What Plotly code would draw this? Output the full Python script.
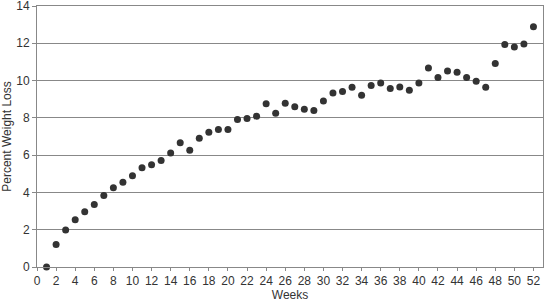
import plotly.graph_objects as go

weeks = list(range(1, 53))
pct_loss = [0.0, 1.21, 1.98, 2.53, 2.96, 3.35, 3.84, 4.25, 4.55, 4.89,
            5.32, 5.48, 5.71, 6.11, 6.67, 6.26, 6.91, 7.23, 7.37, 7.37,
            7.91, 7.96, 8.09, 8.76, 8.25, 8.78, 8.60, 8.46, 8.39, 8.91,
            9.34, 9.41, 9.64, 9.21, 9.73, 9.87, 9.57, 9.66, 9.48, 9.87,
            10.67, 10.16, 10.51, 10.44, 10.16, 9.96, 9.64, 10.91, 11.94, 11.80,
            11.96, 12.89]
x_ticks = list(range(0, 54, 2))
y_ticks = list(range(0, 15, 2))

fig = go.Figure()
fig.add_trace(go.Scatter(
    x=weeks, y=pct_loss, mode="markers",
    marker=dict(size=7, color="#333333"),
    showlegend=False, cliponaxis=False,
))

font = dict(family="Liberation Sans, Arial, sans-serif", size=12, color="#333333")
fig.update_layout(
    width=546, height=302,
    margin=dict(l=37, r=3, t=6, b=35, autoexpand=False),
    plot_bgcolor="white", paper_bgcolor="white",
    font=font,
)
fig.update_xaxes(
    range=[0, 53], tickvals=x_ticks, ticktext=[str(v) for v in x_ticks],
    showgrid=False, zeroline=False, automargin=False, ticklabeloverflow="allow",
    showline=True, linecolor="#888888", linewidth=1, mirror=True,
    ticks="outside", ticklen=3, tickcolor="#888888",
    title=dict(text="Weeks", standoff=2, font=font),
)
fig.update_yaxes(
    range=[0, 14], tickvals=y_ticks, ticktext=[str(v) for v in y_ticks],
    showgrid=True, gridcolor="#888888", gridwidth=1, zeroline=False, automargin=False,
    ticklabeloverflow="allow",
    showline=True, linecolor="#888888", linewidth=1, mirror=True,
    ticks="outside", ticklen=4, tickcolor="#888888",
    title=dict(text="Percent Weight Loss", standoff=2, font=font),
)
fig.write_html("out.html", config={"displayModeBar": False},
               post_script="document.body.style.margin='0';")
